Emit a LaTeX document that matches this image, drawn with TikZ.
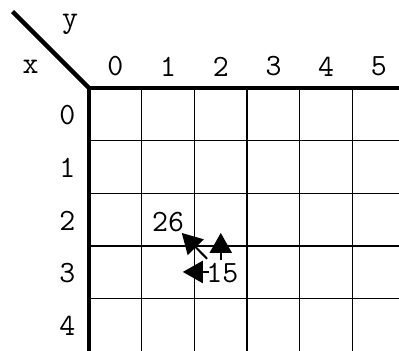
\documentclass[tikz,border=0pt]{standalone}
\usepackage{fontspec}
\usetikzlibrary{arrows.meta}
\tikzset{
  lbl/.style={font=\fontsize{16.7}{20}\selectfont\ttfamily, inner sep=0pt},
  thin grid/.style={line width=0.7pt},
  thick edge/.style={line width=2.3pt},
  tb/.style={line width=1.1pt, -{Triangle[length=0.38cm,width=0.42cm]}}
}
\begin{document}
\begin{tikzpicture}
\useasboundingbox (-1.689,-4.972) rectangle (5.882,1.670);
\clip (-1.689,-4.972) rectangle (5.882,1.670);
% grid
\draw[thin grid] (0,0) grid (6.2,-5.2);
% thick borders
\draw[thick edge] (6.2,0) -- (0,0) -- (0,-5.2);
\draw[thick edge] (0,0) -- (-1.45,1.45);
% labels
\node[lbl] (ly) at (-0.36,1.21) {y};
\node[lbl] (lx) at (-1.11,0.41) {x};
\foreach \j in {0,...,5} {
  \node[lbl] (c\j) at (\j+0.5,0.41) {\j};
}
\foreach \i in {0,...,4} {
  \node[lbl] (r\i) at (-0.41,-\i-0.52) {\i};
}
% cell values
\node[lbl] (v26) at (1.50,-2.54) {26};
\node[lbl] (v15) at (2.53,-3.51) {15};
% arrows
\coordinate (dstart) at (2.24,-3.24);
\coordinate (dtip) at (1.76,-2.75);
\coordinate (ustart) at (2.50,-3.27);
\coordinate (utip) at (2.50,-2.75);
\coordinate (lstart) at (2.27,-3.49);
\coordinate (ltip) at (1.78,-3.49);
\draw[tb] (dstart) -- (dtip);
\draw[tb] (ustart) -- (utip);
\draw[tb] (lstart) -- (ltip);
\end{tikzpicture}
\end{document}
